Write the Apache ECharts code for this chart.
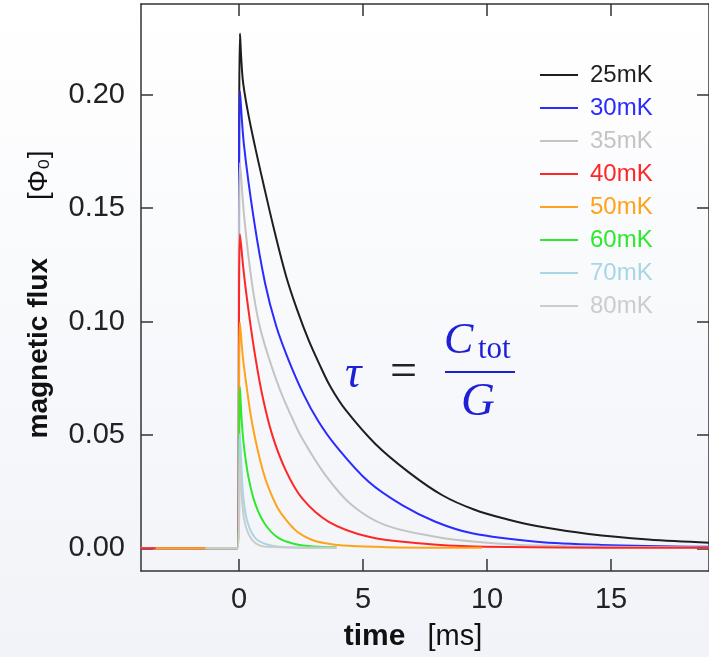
<!DOCTYPE html>
<html>
<head>
<meta charset="utf-8">
<script src="https://cdn.jsdelivr.net/npm/echarts@6/dist/echarts.min.js"></script>
<style>
html,body{margin:0;padding:0;}
#chart{width:709px;height:657px;}
</style>
</head>
<body>
<div id="chart"></div>
<script>
// ---- data (time in ms, magnetic flux in Phi_0) ----
const seriesNames = ['25mK','30mK','35mK','40mK','50mK','60mK','70mK','80mK'];
const xTicks = [0, 5, 10, 15];
const yTicks = [0, 0.05, 0.10, 0.15, 0.20];

const flux25mK = [[-4,0],[-0.06,0],[0.04,0.227],[0.15,0.207],[0.35,0.193],[0.65,0.177],[1.0,0.16],[1.45,0.139],[1.9,0.12],[2.35,0.105],[2.8,0.092],[3.25,0.081],[3.7,0.071],[4.3,0.061],[5.5,0.046],[6.85,0.0335],[8.2,0.0234],[9.5,0.017],[10.8,0.0128],[12.0,0.0098],[14.1,0.0063],[16.5,0.0039],[18.95,0.0025]];
const flux30mK = [[-4,0],[-0.06,0],[0.04,0.2015],[0.2,0.178],[0.6,0.145],[1.05,0.117],[1.5,0.098],[2.0,0.083],[2.6,0.068],[3.2,0.056],[3.89,0.0454],[5.23,0.0293],[6.58,0.019],[7.92,0.0117],[9.4,0.0066],[12.0,0.0029],[14.6,0.0015],[18.95,0.0007]];
const flux35mK = [[-4,0],[-0.06,0],[0.04,0.17],[0.22,0.145],[0.5,0.1187],[0.8,0.0996],[1.2,0.084],[1.65,0.07],[2.1,0.0585],[2.55,0.0484],[3.49,0.0322],[4.56,0.019],[5.9,0.0102],[7.92,0.0051],[9.53,0.0029],[12.0,0.0012],[18.95,0.0004]];
const flux40mK = [[-4,0],[-0.06,0],[0.04,0.1385],[0.2,0.121],[0.42,0.102],[0.65,0.085],[0.94,0.0675],[1.34,0.05],[1.88,0.0345],[2.55,0.022],[3.62,0.0117],[5.23,0.0051],[7.25,0.0022],[9.5,0.0008],[18.95,0.0002]];
const flux50mK = [[-3.36,0],[-0.06,0],[0.04,0.0996],[0.15,0.085],[0.3,0.072],[0.5,0.057],[0.74,0.044],[0.97,0.034],[1.2,0.0265],[1.55,0.018],[1.9,0.0125],[2.35,0.0073],[2.9,0.0039],[3.5,0.0022],[4.2,0.0012],[6.0,0.0005],[9.8,0.0002]];
const flux60mK = [[-1.35,0],[-0.06,0],[0.04,0.0711],[0.1,0.058],[0.19,0.046],[0.38,0.0315],[0.66,0.0195],[1.06,0.0105],[1.6,0.0045],[2.3,0.0018],[3.0,0.0008],[3.93,0.0005]];
const flux70mK = [[-1.35,0],[-0.06,0],[0.04,0.0505],[0.09,0.038],[0.17,0.0234],[0.34,0.0117],[0.67,0.0044],[1.21,0.0015],[2.0,0.0005],[3.93,0.0002]];
const flux80mK = [[-1.35,0],[-0.06,0],[0.04,0.04],[0.08,0.029],[0.2,0.0132],[0.4,0.0059],[0.67,0.0022],[1.1,0.0007],[3.93,0.0002]];

// ---- styles ----
const seriesData = [flux25mK, flux30mK, flux35mK, flux40mK, flux50mK, flux60mK, flux70mK, flux80mK];
const seriesColors = ['#1e1e1e','#2b2bff','#c4c4c4','#ff2626','#ffa31a','#2ee82e','#a9d6e6','#cccccc'];
const FONT = '"Liberation Sans", Arial, Helvetica, sans-serif';
const SERIF = '"Liberation Serif", "DejaVu Serif", serif';
const AX = '#333333';
const MATH = '#1f1fd6';

const chart = echarts.init(document.getElementById('chart'), null, {renderer:'canvas'});

const axisLineStyle = {color: AX, width: 1.5};

const option = {
  animation: false,
  backgroundColor: {
    type: 'linear', x: 0, y: 0, x2: 0, y2: 1,
    colorStops: [{offset: 0, color: '#ffffff'}, {offset: 1, color: '#f1f3f8'}]
  },
  grid: {left: 141, top: 4, right: -1, bottom: 84, containLabel: false},
  legend: {
    orient: 'vertical',
    left: 535,
    top: 58,
    icon: 'rect',
    itemWidth: 38,
    itemHeight: 2,
    itemGap: 9,
    textStyle: {fontFamily: FONT, fontSize: 24, lineHeight: 20, padding: [0,0,0,7]},
    data: seriesNames.map((n, i) => ({name: n, textStyle: {color: seriesColors[i]}}))
  },
  xAxis: [
    {
      type: 'value', position: 'bottom', min: -3.95, max: 18.95,
      axisLine: {show: true, onZero: false, lineStyle: axisLineStyle},
      axisTick: {show: true, inside: true, length: 12, customValues: xTicks, lineStyle: axisLineStyle},
      axisLabel: {customValues: xTicks, fontFamily: FONT, fontSize: 29, color: '#222', margin: 14},
      splitLine: {show: false},
      name: '{b|time}{gap|}{n|[ms]}',
      nameLocation: 'middle',
      nameGap: 51,
      nameTextStyle: {
        padding: [0, 24, 0, 0],
        rich: {
          b: {fontFamily: FONT, fontSize: 30, fontWeight: 'bold', color: '#111'},
          gap: {width: 22},
          n: {fontFamily: FONT, fontSize: 29, color: '#111'}
        }
      }
    },
    {
      type: 'value', position: 'top', min: -3.95, max: 18.95,
      axisLine: {show: true, onZero: false, lineStyle: axisLineStyle},
      axisTick: {show: true, inside: true, length: 12, customValues: xTicks, lineStyle: axisLineStyle},
      axisLabel: {show: false},
      splitLine: {show: false}
    }
  ],
  yAxis: [
    {
      type: 'value', position: 'left', min: -0.01, max: 0.24,
      axisLine: {show: true, onZero: false, lineStyle: axisLineStyle},
      axisTick: {show: true, inside: true, length: 12, customValues: yTicks, lineStyle: axisLineStyle},
      axisLabel: {customValues: yTicks, formatter: v => v.toFixed(2), fontFamily: FONT, fontSize: 29, color: '#222', margin: 16},
      splitLine: {show: false},
      name: '{b|magnetic flux}{gap|}{n|[Φ₀]}',
      nameLocation: 'middle',
      nameRotate: 90,
      nameGap: 88,
      nameTextStyle: {
        padding: [0, 14, 0, 0],
        rich: {
          b: {fontFamily: FONT, fontSize: 28, fontWeight: 'bold', color: '#111'},
          gap: {width: 58},
          n: {fontFamily: FONT, fontSize: 28, color: '#111'}
        }
      }
    },
    {
      type: 'value', position: 'right', min: -0.01, max: 0.24,
      axisLine: {show: true, onZero: false, lineStyle: axisLineStyle},
      axisTick: {show: true, inside: true, length: 12, customValues: yTicks, lineStyle: axisLineStyle},
      axisLabel: {show: false},
      splitLine: {show: false}
    }
  ],
  series: seriesNames.map((n, i) => ({
    name: n,
    type: 'line',
    xAxisIndex: 0,
    yAxisIndex: 0,
    data: seriesData[i],
    showSymbol: false,
    symbol: 'none',
    smooth: 0.35,
    color: seriesColors[i],
    lineStyle: {width: 2, color: seriesColors[i]},
    emphasis: {disabled: true}
  })),
  graphic: [
    {type: 'text', left: 345, top: 352, style: {text: 'τ', font: 'italic 46px ' + SERIF, fill: MATH}},
    {type: 'text', left: 390, top: 349, style: {text: '=', font: '48px ' + SERIF, fill: '#222'}},
    {type: 'text', left: 444, top: 319, style: {text: 'C', font: 'italic 44px ' + SERIF, fill: MATH}},
    {type: 'text', left: 478, top: 334, style: {text: 'tot', font: '31px ' + SERIF, fill: MATH}},
    {type: 'rect', shape: {x: 445, y: 371, width: 70, height: 2}, style: {fill: MATH}},
    {type: 'text', left: 461, top: 379, style: {text: 'G', font: 'italic 47px ' + SERIF, fill: MATH}}
  ]
};

chart.setOption(option);
</script>
</body>
</html>
